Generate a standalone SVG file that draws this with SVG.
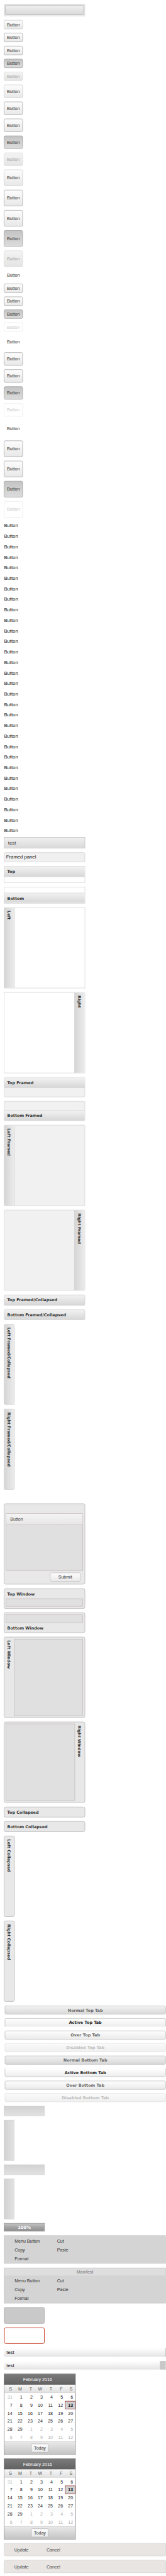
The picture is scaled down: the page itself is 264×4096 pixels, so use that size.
<svg xmlns="http://www.w3.org/2000/svg" width="264" height="4096" viewBox="0 0 264 4096">
<defs>
<linearGradient id="gBtn" x1="0" y1="0" x2="0" y2="1"><stop offset="0" stop-color="#fdfdfd"/><stop offset="1" stop-color="#e8e8e8"/></linearGradient>
<linearGradient id="gPress" x1="0" y1="0" x2="0" y2="1"><stop offset="0" stop-color="#c4c4c4"/><stop offset="1" stop-color="#dcdcdc"/></linearGradient>
<linearGradient id="gDis" x1="0" y1="0" x2="0" y2="1"><stop offset="0" stop-color="#f4f4f4"/><stop offset="1" stop-color="#e4e4e4"/></linearGradient>
<linearGradient id="gBar" x1="0" y1="0" x2="0" y2="1"><stop offset="0" stop-color="#f0f0f0"/><stop offset="1" stop-color="#d9d9d9"/></linearGradient>
<linearGradient id="gHead" x1="0" y1="0" x2="0" y2="1"><stop offset="0" stop-color="#f2f2f2"/><stop offset="1" stop-color="#d7d7d7"/></linearGradient>
<linearGradient id="gHeadV" x1="0" y1="0" x2="1" y2="0"><stop offset="0" stop-color="#d5d5d5"/><stop offset="1" stop-color="#ececec"/></linearGradient>
<linearGradient id="gTabN" x1="0" y1="0" x2="0" y2="1"><stop offset="0" stop-color="#f2f2f2"/><stop offset="1" stop-color="#d8d8d8"/></linearGradient>
<linearGradient id="gTabA" x1="0" y1="0" x2="0" y2="1"><stop offset="0" stop-color="#ffffff"/><stop offset="1" stop-color="#ededed"/></linearGradient>
<linearGradient id="gTabO" x1="0" y1="0" x2="0" y2="1"><stop offset="0" stop-color="#fefefe"/><stop offset="1" stop-color="#eaeaea"/></linearGradient>
<linearGradient id="gTabD" x1="0" y1="0" x2="0" y2="1"><stop offset="0" stop-color="#fafafa"/><stop offset="1" stop-color="#f0f0f0"/></linearGradient>
<linearGradient id="gThumbH" x1="0" y1="0" x2="0" y2="1"><stop offset="0" stop-color="#d2d2d2"/><stop offset="1" stop-color="#e2e2e2"/></linearGradient>
<linearGradient id="gThumbV" x1="0" y1="0" x2="1" y2="0"><stop offset="0" stop-color="#d2d2d2"/><stop offset="1" stop-color="#e2e2e2"/></linearGradient>
<linearGradient id="gProg" x1="0" y1="0" x2="0" y2="1"><stop offset="0" stop-color="#c6c6c6"/><stop offset="0.5" stop-color="#a4a4a4"/><stop offset="1" stop-color="#8e8e8e"/></linearGradient>
<linearGradient id="gTest" x1="0" y1="0" x2="0" y2="1"><stop offset="0" stop-color="#ffffff"/><stop offset="1" stop-color="#e4e4e4"/></linearGradient>
<linearGradient id="gCalH" x1="0" y1="0" x2="0" y2="1"><stop offset="0" stop-color="#7a7a7a"/><stop offset="1" stop-color="#626262"/></linearGradient>
<linearGradient id="gCalD" x1="0" y1="0" x2="0" y2="1"><stop offset="0" stop-color="#f7f7f7"/><stop offset="1" stop-color="#e0e0e0"/></linearGradient>
<linearGradient id="gCalF" x1="0" y1="0" x2="0" y2="1"><stop offset="0" stop-color="#e9e9e9"/><stop offset="1" stop-color="#c4c4c4"/></linearGradient>
<linearGradient id="gWinHd" x1="0" y1="0" x2="0" y2="1"><stop offset="0" stop-color="#f4f4f4"/><stop offset="1" stop-color="#e6e6e6"/></linearGradient>
</defs>
<style>
.bn{fill:url(#gBtn);stroke:#c2c2c2;stroke-width:1}
.bo{fill:url(#gBtn);stroke:#959595;stroke-width:1}
.bp{fill:url(#gPress);stroke:#959595;stroke-width:1}
.bd{fill:url(#gDis);stroke:#d6d6d6;stroke-width:1}
.bw{fill:#ffffff;stroke:#e6e6e6;stroke-width:1}
.lb{font-family:"Liberation Sans",Arial,sans-serif;font-size:11px;fill:#333;text-anchor:middle}
.lbd{fill:#a2a2a2}
.lbw{fill:#c8c8c8}
.tx{font-family:"Liberation Sans",Arial,sans-serif;font-size:12px;fill:#111}
.hd{font-family:"DejaVu Sans",Verdana,sans-serif;font-weight:bold;font-size:10px;fill:#333}
.pl{fill:#ffffff;stroke:#cdcdcd;stroke-width:1}
.pf{fill:#f1f1f1;stroke:#cdcdcd;stroke-width:1}
.win{fill:#e8e8e8;stroke:#a9a9a9;stroke-width:1}
.inw{fill:#e0e0e0;stroke:#c2b4b4;stroke-width:1}
.tab{font-family:"DejaVu Sans",Verdana,sans-serif;font-weight:bold;font-size:10px;text-anchor:middle}
.mi{font-family:"Liberation Sans",Arial,sans-serif;font-size:11px;fill:#333}
.cd{font-family:"Liberation Sans",Arial,sans-serif;font-size:11px;fill:#222;text-anchor:end}
.cg{fill:#b0b0b0}
.ch{font-family:"Liberation Sans",Arial,sans-serif;font-size:11px;fill:#555;text-anchor:middle}
</style>
<rect width="264" height="4096" fill="#ffffff"/>
<g transform="scale(0.643)">

<g id="toolbar">
<rect x="10" y="10" width="200" height="30" fill="#ececec" stroke="#d2d2d2"/>
<rect x="13" y="13" width="194" height="23.5" rx="3" fill="url(#gBar)" stroke="#a6a6a6"/>
</g>

<g id="buttons-a">
<g id="btn-s1"><rect x="10" y="50" width="46" height="21.5" rx="3" class="bn"/><text x="33" y="64.65" class="lb">Button</text></g>
<g id="btn-s2"><rect x="10" y="82" width="46" height="21.5" rx="3" class="bo"/><text x="33" y="96.65" class="lb">Button</text></g>
<g id="btn-s3"><rect x="10" y="114" width="46" height="21.5" rx="3" class="bo"/><text x="33" y="128.65" class="lb">Button</text></g>
<g id="btn-s4"><rect x="10" y="146" width="46" height="21.5" rx="3" class="bp"/><text x="33" y="160.65" class="lb">Button</text></g>
<g id="btn-s5"><rect x="10" y="178" width="46" height="21.5" rx="3" class="bd"/><text x="33" y="192.65" class="lb lbd">Button</text></g>
<g id="btn-m1"><rect x="10" y="210" width="46" height="31.5" rx="3" class="bn"/><text x="33" y="229.65" class="lb">Button</text></g>
<g id="btn-m2"><rect x="10" y="252" width="46" height="31.5" rx="3" class="bo"/><text x="33" y="271.65" class="lb">Button</text></g>
<g id="btn-m3"><rect x="10" y="294" width="46" height="31.5" rx="3" class="bo"/><text x="33" y="313.65" class="lb">Button</text></g>
<g id="btn-m4"><rect x="10" y="336" width="46" height="31.5" rx="3" class="bp"/><text x="33" y="355.65" class="lb">Button</text></g>
<g id="btn-m5"><rect x="10" y="378" width="46" height="31.5" rx="3" class="bd"/><text x="33" y="397.65" class="lb lbd">Button</text></g>
<g id="btn-l1"><rect x="10" y="420" width="46" height="39.3" rx="3" class="bn"/><text x="33" y="443.55" class="lb">Button</text></g>
<g id="btn-l2"><rect x="10" y="470" width="46" height="39.3" rx="3" class="bo"/><text x="33" y="493.55" class="lb">Button</text></g>
<g id="btn-l3"><rect x="10" y="520" width="46" height="39.3" rx="3" class="bo"/><text x="33" y="543.55" class="lb">Button</text></g>
<g id="btn-l4"><rect x="10" y="570" width="46" height="39.3" rx="3" class="bp"/><text x="33" y="593.55" class="lb">Button</text></g>
<g id="btn-l5"><rect x="10" y="620" width="46" height="39.3" rx="3" class="bd"/><text x="33" y="643.55" class="lb lbd">Button</text></g>
</g>

<g id="buttons-b">
<g id="btnb-s0"><text x="33" y="684.9" class="lb">Button</text></g>
<g id="btnb-s1"><rect x="10" y="702" width="46" height="21.5" rx="3" class="bo"/><text x="33" y="716.65" class="lb">Button</text></g>
<g id="btnb-s2"><rect x="10" y="734" width="46" height="21.5" rx="3" class="bo"/><text x="33" y="748.65" class="lb">Button</text></g>
<g id="btnb-s3"><rect x="10" y="766" width="46" height="21.5" rx="3" class="bp"/><text x="33" y="780.65" class="lb">Button</text></g>
<g id="btnb-s4"><rect x="10" y="798" width="46" height="21.5" rx="3" class="bw"/><text x="33" y="812.65" class="lb lbw">Button</text></g>
<g id="btnb-m0"><text x="33" y="849.9" class="lb">Button</text></g>
<g id="btnb-m1"><rect x="10" y="872" width="46" height="31.5" rx="3" class="bo"/><text x="33" y="891.65" class="lb">Button</text></g>
<g id="btnb-m2"><rect x="10" y="914" width="46" height="31.5" rx="3" class="bo"/><text x="33" y="933.65" class="lb">Button</text></g>
<g id="btnb-m3"><rect x="10" y="956" width="46" height="31.5" rx="3" class="bp"/><text x="33" y="975.65" class="lb">Button</text></g>
<g id="btnb-m4"><rect x="10" y="998" width="46" height="31.5" rx="3" class="bw"/><text x="33" y="1017.65" class="lb lbw">Button</text></g>
<g id="btnb-l0"><text x="33" y="1063" class="lb">Button</text></g>
<g id="btnb-l1"><rect x="10" y="1090" width="46" height="39.3" rx="3" class="bo"/><text x="33" y="1113.55" class="lb">Button</text></g>
<g id="btnb-l2"><rect x="10" y="1140" width="46" height="39.3" rx="3" class="bo"/><text x="33" y="1163.55" class="lb">Button</text></g>
<g id="btnb-l3"><rect x="10" y="1190" width="46" height="39.3" rx="3" class="bp"/><text x="33" y="1213.55" class="lb">Button</text></g>
<g id="btnb-l4"><rect x="10" y="1240" width="46" height="39.3" rx="3" class="bw"/><text x="33" y="1263.55" class="lb lbw">Button</text></g>
</g>

<g id="button-list" class="tx">
<text x="10" y="1304" class="tx">Button</text>
<text x="10" y="1330" class="tx">Button</text>
<text x="10" y="1356" class="tx">Button</text>
<text x="10" y="1382" class="tx">Button</text>
<text x="10" y="1408" class="tx">Button</text>
<text x="10" y="1434" class="tx">Button</text>
<text x="10" y="1460" class="tx">Button</text>
<text x="10" y="1486" class="tx">Button</text>
<text x="10" y="1512" class="tx">Button</text>
<text x="10" y="1538" class="tx">Button</text>
<text x="10" y="1564" class="tx">Button</text>
<text x="10" y="1590" class="tx">Button</text>
<text x="10" y="1616" class="tx">Button</text>
<text x="10" y="1642" class="tx">Button</text>
<text x="10" y="1668" class="tx">Button</text>
<text x="10" y="1694" class="tx">Button</text>
<text x="10" y="1720" class="tx">Button</text>
<text x="10" y="1746" class="tx">Button</text>
<text x="10" y="1772" class="tx">Button</text>
<text x="10" y="1798" class="tx">Button</text>
<text x="10" y="1824" class="tx">Button</text>
<text x="10" y="1850" class="tx">Button</text>
<text x="10" y="1876" class="tx">Button</text>
<text x="10" y="1902" class="tx">Button</text>
<text x="10" y="1928" class="tx">Button</text>
<text x="10" y="1954" class="tx">Button</text>
<text x="10" y="1980" class="tx">Button</text>
<text x="10" y="2006" class="tx">Button</text>
<text x="10" y="2032" class="tx">Button</text>
<text x="10" y="2058" class="tx">Button</text>
</g>

<g id="test-panel">
<rect x="10" y="2070.5" width="200" height="27" fill="url(#gBar)" stroke="#c2b8b8"/>
<text x="20" y="2088.3" class="tx" style="fill:#444">test</text>
</g>
<g id="framed-panel">
<rect x="10" y="2108.4" width="200" height="23" rx="3" fill="#f0f0f0" stroke="#cccccc"/>
<text x="15.3" y="2123.5" class="tx">Framed panel</text>
</g>

<g id="panel-top">
<rect x="10" y="2142.3" width="200" height="40" class="pl"/>
<rect x="10.5" y="2142.8" width="199" height="25.2" fill="url(#gHead)"/>
<line x1="10" y1="2168" x2="210" y2="2168" stroke="#d0d0d0"/>
<text x="18" y="2158.9" class="hd">Top</text>
</g>
<g id="panel-bottom">
<rect x="10" y="2193.4" width="200" height="40.3" class="pl"/>
<rect x="10.5" y="2208.3" width="199" height="24.2" fill="url(#gHead)"/>
<line x1="10" y1="2208.3" x2="210" y2="2208.3" stroke="#d0d0d0"/>
<text x="18" y="2224.9" class="hd">Bottom</text>
</g>
<g id="panel-left">
<rect x="10" y="2244.2" width="200" height="199.1" class="pl"/>
<rect x="10.5" y="2244.7" width="25.2" height="198.1" fill="url(#gHeadV)"/>
<line x1="35.7" y1="2244.2" x2="35.7" y2="2443.3" stroke="#d0d0d0"/>
<text transform="translate(18.65,2252) rotate(90)" class="hd">Left</text>
</g>
<g id="panel-right">
<rect x="10" y="2454.2" width="200" height="199.1" class="pl"/>
<rect x="184.3" y="2454.7" width="25.2" height="198.1" fill="url(#gHeadV)"/>
<line x1="184.3" y1="2454.2" x2="184.3" y2="2653.3" stroke="#d0d0d0"/>
<text transform="translate(193,2462) rotate(90)" class="hd">Right</text>
</g>

<g id="panel-top-framed">
<rect x="10" y="2664.5" width="200" height="48.1" rx="3" class="pf"/>
<path d="M10.5,2689.5 V2668 Q10.5,2665 13.5,2665 H206.5 Q209.5,2665 209.5,2668 V2689.5 Z" fill="url(#gHead)"/>
<line x1="10" y1="2689.5" x2="210" y2="2689.5" stroke="#d0d0d0"/>
<text x="18" y="2680.7" class="hd">Top Framed</text>
</g>
<g id="panel-bottom-framed">
<rect x="10" y="2723.4" width="200" height="48.1" rx="3" class="pf"/>
<path d="M10.5,2746.4 V2768 Q10.5,2771 13.5,2771 H206.5 Q209.5,2771 209.5,2768 V2746.4 Z" fill="url(#gHead)"/>
<line x1="10" y1="2746.4" x2="210" y2="2746.4" stroke="#d0d0d0"/>
<text x="18" y="2762.7" class="hd">Bottom Framed</text>
</g>
<g id="panel-left-framed">
<rect x="10" y="2782.3" width="200" height="199.5" rx="3" class="pf"/>
<path d="M35.7,2782.8 H13.5 Q10.5,2782.8 10.5,2785.8 V2978.3 Q10.5,2981.3 13.5,2981.3 H35.7 Z" fill="url(#gHeadV)"/>
<line x1="35.7" y1="2782.3" x2="35.7" y2="2981.8" stroke="#d0d0d0"/>
<text transform="translate(18.65,2790.5) rotate(90)" class="hd">Left Framed</text>
</g>
<g id="panel-right-framed">
<rect x="10" y="2992.3" width="200" height="198.7" rx="3" class="pf"/>
<path d="M184.3,2992.8 H206.5 Q209.5,2992.8 209.5,2995.8 V3187.5 Q209.5,3190.5 206.5,3190.5 H184.3 Z" fill="url(#gHeadV)"/>
<line x1="184.3" y1="2992.3" x2="184.3" y2="3191" stroke="#d0d0d0"/>
<text transform="translate(193,3000.4) rotate(90)" class="hd">Right Framed</text>
</g>

<g id="panel-top-framed-collapsed">
<rect x="10" y="3202.3" width="200" height="25.4" rx="3" fill="url(#gHead)" stroke="#cdcdcd"/>
<text x="18" y="3218.5" class="hd">Top Framed/Collapsed</text>
</g>
<g id="panel-bottom-framed-collapsed">
<rect x="10" y="3238.5" width="200" height="25" rx="3" fill="url(#gHead)" stroke="#cdcdcd"/>
<text x="18" y="3254.7" class="hd">Bottom Framed/Collapsed</text>
</g>
<g id="panel-left-framed-collapsed">
<rect x="10" y="3274.7" width="25.7" height="198.5" rx="3" fill="url(#gHeadV)" stroke="#cdcdcd"/>
<text transform="translate(18.65,3282.5) rotate(90)" class="hd">Left Framed/Collapsed</text>
</g>
<g id="panel-right-framed-collapsed">
<rect x="10" y="3484.3" width="25.7" height="199.2" rx="3" fill="url(#gHeadV)" stroke="#cdcdcd"/>
<text transform="translate(18.65,3492.5) rotate(90)" class="hd">Right Framed/Collapsed</text>
</g>

<g id="window-main">
<rect x="10" y="3718.4" width="200" height="199.1" rx="4" class="win"/>
<rect x="15" y="3743" width="189.7" height="140.6" class="inw"/>
<rect x="15.5" y="3743.5" width="188.7" height="27" fill="url(#gWinHd)"/>
<line x1="15" y1="3770.5" x2="204.7" y2="3770.5" stroke="#c8b8b8"/>
<text x="25.3" y="3761.2" class="mi" style="fill:#444">Button</text>
<rect x="124.3" y="3889.4" width="74.4" height="21.3" rx="3" fill="url(#gBtn)" stroke="#bdbdbd"/>
<text x="161.3" y="3903.8" class="lb">Submit</text>
</g>
<g id="window-top">
<rect x="10" y="3928.6" width="200" height="49.1" rx="4" class="win"/>
<rect x="15" y="3953.4" width="189.7" height="18.9" class="inw"/>
<text x="18" y="3944.9" class="hd">Top Window</text>
</g>
<g id="window-bottom">
<rect x="10" y="3988.2" width="200" height="49.2" rx="4" class="win"/>
<rect x="15" y="3993.3" width="189.7" height="19.3" class="inw"/>
<text x="18" y="4028.9" class="hd">Bottom Window</text>
</g>
<g id="window-left">
<rect x="10" y="4048.2" width="200" height="199.1" rx="4" class="win"/>
<rect x="35" y="4053.3" width="169.7" height="189.3" class="inw"/>
<text transform="translate(18.65,4056.3) rotate(90)" class="hd">Left Window</text>
</g>
<g id="window-right">
<rect x="10" y="4258.2" width="200" height="199.1" rx="4" class="win"/>
<rect x="15" y="4262.9" width="170" height="189.6" class="inw"/>
<text transform="translate(193,4266.6) rotate(90)" class="hd">Right Window</text>
</g>
<g id="window-top-collapsed">
<rect x="10" y="4468.5" width="200" height="25" rx="4" class="win"/>
<text x="18" y="4484.7" class="hd">Top Collapsed</text>
</g>
<g id="window-bottom-collapsed">
<rect x="10" y="4504.3" width="200" height="25.1" rx="4" class="win"/>
<text x="18" y="4520.9" class="hd">Bottom Collapsed</text>
</g>
<g id="window-left-collapsed">
<rect x="10" y="4540.2" width="25.7" height="199.2" rx="4" class="win"/>
<text transform="translate(18.65,4548.4) rotate(90)" class="hd">Left Collapsed</text>
</g>
<g id="window-right-collapsed">
<rect x="10" y="4750.2" width="25.7" height="199.1" rx="4" class="win"/>
<text transform="translate(18.65,4758.7) rotate(90)" class="hd">Right Collapsed</text>
</g>

<g id="tab-normal-top">
<rect x="12.3" y="4960.5" width="397.2" height="20.3" rx="3" fill="url(#gTabN)" stroke="#b4b4b4"/>
<text x="211" y="4974.4" class="tab" style="fill:#666">Normal Top Tab</text>
</g>
<g id="tab-active-top">
<rect x="12.3" y="4991.3" width="397.2" height="20.3" rx="3" fill="url(#gTabA)"/>
<path d="M12.3,5011.6 V4994.3 Q12.3,4991.3 15.3,4991.3 H406.5 Q409.5,4991.3 409.5,4994.3 V5011.6" fill="none" stroke="#b4b4b4"/>
<text x="211" y="5005.1" class="tab" style="fill:#222">Active Top Tab</text>
</g>
<g id="tab-over-top">
<rect x="12.3" y="5022.1" width="397.2" height="20.7" rx="3" fill="url(#gTabO)" stroke="#b0b0b0"/>
<text x="211" y="5036.1" class="tab" style="fill:#666">Over Top Tab</text>
</g>
<g id="tab-disabled-top">
<rect x="12.3" y="5052.9" width="397.2" height="20.7" rx="3" fill="url(#gTabD)" stroke="#dddddd"/>
<text x="211" y="5066.9" class="tab" style="fill:#bdbdbd">Disabled Top Tab</text>
</g>
<g id="tab-normal-bottom">
<rect x="12.3" y="5084.1" width="397.2" height="20.7" rx="3" fill="url(#gTabN)" stroke="#b4b4b4"/>
<text x="211" y="5098.1" class="tab" style="fill:#666">Normal Bottom Tab</text>
</g>
<g id="tab-active-bottom">
<rect x="12.3" y="5114.9" width="397.2" height="20.3" rx="3" fill="url(#gTabA)"/>
<path d="M12.3,5114.9 V5132.2 Q12.3,5135.2 15.3,5135.2 H406.5 Q409.5,5135.2 409.5,5132.2 V5114.9" fill="none" stroke="#b4b4b4"/>
<text x="211" y="5128.7" class="tab" style="fill:#222">Active Bottom Tab</text>
</g>
<g id="tab-over-bottom">
<rect x="12.3" y="5146" width="397.2" height="20.7" rx="3" fill="url(#gTabO)" stroke="#b0b0b0"/>
<text x="211" y="5160" class="tab" style="fill:#666">Over Bottom Tab</text>
</g>
<g id="tab-disabled-bottom">
<rect x="12.3" y="5176.9" width="397.2" height="20.6" rx="3" fill="url(#gTabD)" stroke="#dddddd"/>
<text x="211" y="5190.9" class="tab" style="fill:#bdbdbd">Disabled Bottom Tab</text>
</g>

<g id="thumb-h1"><rect x="10" y="5208.4" width="100" height="24.4" fill="url(#gThumbH)" stroke="#d0d0d0"/></g>
<g id="thumb-v1"><rect x="10" y="5242.9" width="25" height="99.6" fill="url(#gThumbV)" stroke="#d0d0d0"/></g>
<g id="thumb-h2"><rect x="10" y="5353" width="100" height="24.7" fill="url(#gThumbH)" stroke="#d0d0d0"/></g>
<g id="thumb-v2"><rect x="10" y="5387.9" width="25" height="99.9" fill="url(#gThumbV)" stroke="#d0d0d0"/></g>

<g id="progress">
<rect x="10" y="5497.9" width="100" height="19.7" fill="url(#gProg)" stroke="#8a8a8a"/>
<text x="60" y="5511.6" class="tab" style="fill:#ffffff;font-size:10.5px">100%</text>
</g>

<g id="menu-1">
<rect x="10" y="5528.4" width="399.5" height="68.8" fill="#d4d4d4" stroke="#c6c6c6"/>
<text x="36" y="5545.2" class="mi">Menu Button</text>
<text x="141" y="5545.2" class="mi">Cut</text>
<text x="36" y="5567.2" class="mi">Copy</text>
<text x="141" y="5567.2" class="mi">Paste</text>
<text x="36" y="5588.9" class="mi">Format</text>
</g>
<g id="menu-2">
<rect x="10" y="5608.3" width="399.5" height="87.1" fill="#d4d4d4" stroke="#c6c6c6"/>
<rect x="11" y="5609.3" width="397.5" height="17.7" fill="#dedede"/>
<text x="210" y="5622.7" class="lb" style="fill:#777">Manifest</text>
<text x="36" y="5643.1" class="mi">Menu Button</text>
<text x="141" y="5643.1" class="mi">Cut</text>
<text x="36" y="5665.1" class="mi">Copy</text>
<text x="141" y="5665.1" class="mi">Paste</text>
<text x="36" y="5687.1" class="mi">Format</text>
</g>

<g id="box-gray"><rect x="10.3" y="5706.2" width="99.4" height="39.3" rx="3" fill="#c9c9c9" stroke="#9a9a9a"/></g>
<g id="box-red"><rect x="10.8" y="5756.3" width="98.9" height="39" rx="4" fill="#ffffff" stroke="#c8402c" stroke-width="1.5"/></g>

<g id="field-1">
<rect x="10" y="5806.1" width="400" height="22" fill="url(#gTest)"/>
<line x1="409.3" y1="5806.1" x2="409.3" y2="5828.1" stroke="#999"/>
<text x="16" y="5821.2" class="tx">test</text>
</g>
<g id="field-2">
<rect x="10" y="5838.3" width="400" height="21.3" fill="url(#gTest)"/>
<rect x="395.3" y="5838.3" width="14.7" height="21.3" fill="#c8c8c8"/>
<text x="16" y="5853.8" class="tx">test</text>
</g>

<g id="calendar-1" transform="translate(10,5870.5)">
<rect x="0" y="0" width="176.7" height="199.1" fill="#ffffff" stroke="#555555"/>
<rect x="0.5" y="0.5" width="175.7" height="26.2" fill="url(#gCalH)"/>
<text x="83" y="17.4" class="lb" style="fill:#ffffff">February 2016</text>
<rect x="0.5" y="26.7" width="175.7" height="19.7" fill="url(#gCalD)"/>
<line x1="0" y1="46.4" x2="176.7" y2="46.4" stroke="#cccccc"/>
<text y="40.1" class="ch"><tspan x="15.7">S</tspan><tspan x="39.7">M</tspan><tspan x="66">T</tspan><tspan x="89.3">W</tspan><tspan x="115.7">T</tspan><tspan x="141.7">F</tspan><tspan x="165.7">S</tspan></text>
<rect x="151.3" y="67.4" width="24.4" height="19.3" fill="#d0d0d0" stroke="#800000"/>
<text y="60.8" class="cd"><tspan x="20.7" class="cg">31</tspan><tspan x="45.7">1</tspan><tspan x="70.7">2</tspan><tspan x="95.7">3</tspan><tspan x="120.7">4</tspan><tspan x="145.7">5</tspan><tspan x="170.7">6</tspan></text>
<text y="80.8" class="cd"><tspan x="20.7">7</tspan><tspan x="45.7">8</tspan><tspan x="70.7">9</tspan><tspan x="95.7">10</tspan><tspan x="120.7">11</tspan><tspan x="145.7">12</tspan><tspan x="170.7" font-weight="bold">13</tspan></text>
<text y="100.8" class="cd"><tspan x="20.7">14</tspan><tspan x="45.7">15</tspan><tspan x="70.7">16</tspan><tspan x="95.7">17</tspan><tspan x="120.7">18</tspan><tspan x="145.7">19</tspan><tspan x="170.7">20</tspan></text>
<text y="120.8" class="cd"><tspan x="20.7">21</tspan><tspan x="45.7">22</tspan><tspan x="70.7">23</tspan><tspan x="95.7">24</tspan><tspan x="120.7">25</tspan><tspan x="145.7">26</tspan><tspan x="170.7">27</tspan></text>
<text y="140.8" class="cd"><tspan x="20.7">28</tspan><tspan x="45.7">29</tspan><tspan x="70.7" class="cg">1</tspan><tspan x="95.7" class="cg">2</tspan><tspan x="120.7" class="cg">3</tspan><tspan x="145.7" class="cg">4</tspan><tspan x="170.7" class="cg">5</tspan></text>
<text y="160.8" class="cd cg"><tspan x="20.7">6</tspan><tspan x="45.7">7</tspan><tspan x="70.7">8</tspan><tspan x="95.7">9</tspan><tspan x="120.7">10</tspan><tspan x="145.7">11</tspan><tspan x="170.7">12</tspan></text>
<rect x="0.5" y="167.5" width="175.7" height="31.1" fill="url(#gCalF)"/>
<line x1="0" y1="167.5" x2="176.7" y2="167.5" stroke="#bbbbbb"/>
<rect x="67.7" y="173" width="41.6" height="20.7" rx="2" fill="url(#gBtn)" stroke="#b0b0b0"/>
<text x="88.7" y="187.4" class="lb">Today</text>
</g>

<g id="calendar-2" transform="translate(10,6080)">
<rect x="0" y="0" width="176.7" height="199.1" fill="#ffffff" stroke="#555555"/>
<rect x="0.5" y="0.5" width="175.7" height="26.2" fill="url(#gCalH)"/>
<text x="83" y="17.4" class="lb" style="fill:#ffffff">February 2016</text>
<rect x="0.5" y="26.7" width="175.7" height="19.7" fill="url(#gCalD)"/>
<line x1="0" y1="46.4" x2="176.7" y2="46.4" stroke="#cccccc"/>
<text y="40.1" class="ch"><tspan x="15.7">S</tspan><tspan x="39.7">M</tspan><tspan x="66">T</tspan><tspan x="89.3">W</tspan><tspan x="115.7">T</tspan><tspan x="141.7">F</tspan><tspan x="165.7">S</tspan></text>
<rect x="151.3" y="67.4" width="24.4" height="19.3" fill="#d0d0d0" stroke="#800000"/>
<text y="60.8" class="cd"><tspan x="20.7" class="cg">31</tspan><tspan x="45.7">1</tspan><tspan x="70.7">2</tspan><tspan x="95.7">3</tspan><tspan x="120.7">4</tspan><tspan x="145.7">5</tspan><tspan x="170.7">6</tspan></text>
<text y="80.8" class="cd"><tspan x="20.7">7</tspan><tspan x="45.7">8</tspan><tspan x="70.7">9</tspan><tspan x="95.7">10</tspan><tspan x="120.7">11</tspan><tspan x="145.7">12</tspan><tspan x="170.7" font-weight="bold">13</tspan></text>
<text y="100.8" class="cd"><tspan x="20.7">14</tspan><tspan x="45.7">15</tspan><tspan x="70.7">16</tspan><tspan x="95.7">17</tspan><tspan x="120.7">18</tspan><tspan x="145.7">19</tspan><tspan x="170.7">20</tspan></text>
<text y="120.8" class="cd"><tspan x="20.7">21</tspan><tspan x="45.7">22</tspan><tspan x="70.7">23</tspan><tspan x="95.7">24</tspan><tspan x="120.7">25</tspan><tspan x="145.7">26</tspan><tspan x="170.7">27</tspan></text>
<text y="140.8" class="cd"><tspan x="20.7">28</tspan><tspan x="45.7">29</tspan><tspan x="70.7" class="cg">1</tspan><tspan x="95.7" class="cg">2</tspan><tspan x="120.7" class="cg">3</tspan><tspan x="145.7" class="cg">4</tspan><tspan x="170.7" class="cg">5</tspan></text>
<text y="160.8" class="cd cg"><tspan x="20.7">6</tspan><tspan x="45.7">7</tspan><tspan x="70.7">8</tspan><tspan x="95.7">9</tspan><tspan x="120.7">10</tspan><tspan x="145.7">11</tspan><tspan x="170.7">12</tspan></text>
<rect x="0.5" y="167.5" width="175.7" height="31.1" fill="url(#gCalF)"/>
<line x1="0" y1="167.5" x2="176.7" y2="167.5" stroke="#bbbbbb"/>
<rect x="67.7" y="173" width="41.6" height="20.7" rx="2" fill="url(#gBtn)" stroke="#b0b0b0"/>
<text x="88.7" y="187.4" class="lb">Today</text>
</g>

<g id="toolbar-bottom">
<path d="M10,6289.7 H410 V6316.5 Q410,6320.5 406,6320.5 H14 Q10,6320.5 10,6316.5 Z" fill="#e8e5e3" stroke="#d2d0ce"/>
<text x="35.3" y="6308.8" class="mi" style="fill:#444">Update</text>
<text x="115" y="6308.8" class="mi" style="fill:#444">Cancel</text>
</g>
<g id="toolbar-top">
<path d="M10,6362 V6335 Q10,6331 14,6331 H406 Q410,6331 410,6335 V6362 Z" fill="#e8e5e3" stroke="#d2d0ce"/>
<text x="35.3" y="6351.2" class="mi" style="fill:#444">Update</text>
<text x="115" y="6351.2" class="mi" style="fill:#444">Cancel</text>
</g>

<g id="connectors"/>
</g>
</svg>
